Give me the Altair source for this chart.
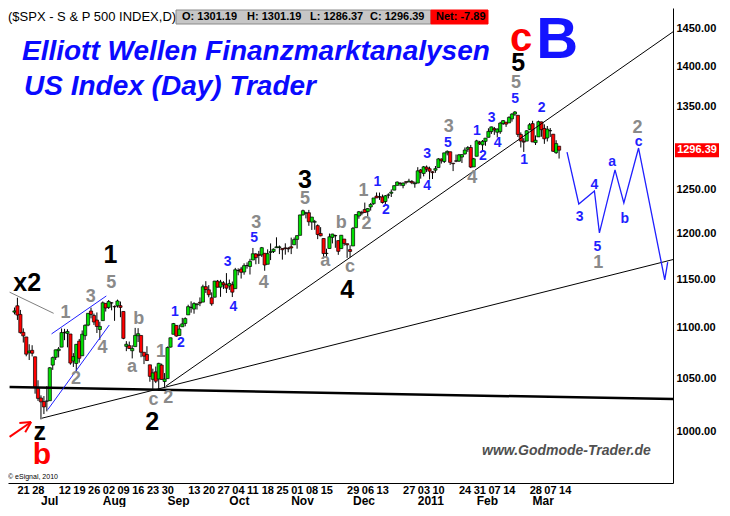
import altair as alt
import pandas as pd

FONT = "Liberation Sans"

# ---------------- OHLC data (Jun 18 2010 .. Mar 14 2011), one value per trading day ----------------
opens = [
    1116.2, 1122.8, 1113.9, 1095.6, 1090.9, 1075.1, 1077.5, 1071.1, 1040.6,
    1031.1, 1027.7, 1028.1, 1028.5, 1062.9, 1070.5, 1077.2, 1080.7, 1095.6, 1094.5, 1093.9,
    1066.9, 1064.5, 1086.7, 1072.1, 1092.2, 1102.9, 1117.4, 1112.8, 1108.1, 1098.4,
    1107.5, 1125.3, 1121.1, 1125.8, 1122.1, 1122.8, 1122.9, 1116.9, 1081.5, 1082.2, 1077.1,
    1081.2, 1092.1, 1092.4, 1075.6, 1073.4, 1063.2, 1049.0, 1056.3, 1049.3, 1062.9, 1046.9,
    1049.7, 1080.7, 1093.6, 1102.6, 1092.4, 1101.2, 1104.6, 1113.4, 1121.2, 1119.4, 1123.9,
    1126.4, 1126.6, 1142.8, 1139.5, 1131.1, 1131.7, 1148.6, 1142.3, 1146.8, 1145.0,
    1143.5, 1144.9, 1140.7, 1159.8, 1161.6, 1158.4, 1165.3, 1164.3, 1171.3, 1177.8, 1177.5,
    1176.8, 1178.6, 1166.7, 1179.6, 1180.5, 1184.7, 1184.9, 1183.8, 1184.5, 1183.9,
    1185.7, 1187.9, 1193.8, 1198.3, 1221.2, 1223.2, 1223.6, 1213.1, 1213.0, 1209.1, 1200.4,
    1194.8, 1178.3, 1183.8, 1196.1, 1198.1, 1192.5, 1183.7, 1194.2, 1189.1, 1182.6,
    1186.6, 1206.8, 1219.9, 1223.9, 1227.3, 1225.0, 1230.1, 1233.9, 1242.5, 1241.8, 1241.6,
    1236.3, 1243.6, 1245.8, 1249.4, 1254.9, 1257.5, 1254.7, 1259.1, 1258.8, 1259.4, 1256.8,
    1257.6, 1272.9, 1268.8, 1276.3, 1274.4, 1270.8, 1272.6, 1275.7, 1285.8, 1282.9,
    1293.2, 1294.5, 1280.9, 1283.6, 1283.3, 1288.2, 1292.0, 1297.5, 1299.6, 1276.5,
    1289.1, 1305.9, 1302.8, 1307.0, 1311.9, 1318.8, 1322.5, 1318.1, 1318.7, 1328.7,
    1330.4, 1329.5, 1334.4, 1340.4, 1338.9, 1315.4, 1307.1, 1307.3, 1321.6,
    1328.6, 1305.5, 1312.4, 1330.7, 1322.7, 1311.1, 1319.9, 1315.7, 1293.4, 1301.2,
]
highs = [
    1121.0, 1131.2, 1118.5, 1099.6, 1090.9, 1083.6, 1082.6, 1071.1, 1048.1,
    1033.6, 1032.9, 1042.5, 1060.9, 1071.3, 1078.2, 1080.8, 1099.5, 1099.1, 1098.7, 1093.9,
    1074.7, 1083.9, 1088.9, 1097.5, 1103.7, 1115.2, 1120.9, 1114.7, 1115.9, 1106.4,
    1127.3, 1125.4, 1128.8, 1126.6, 1123.1, 1129.2, 1127.2, 1116.9, 1086.7, 1086.3, 1082.6,
    1100.1, 1099.8, 1092.4, 1075.6, 1081.6, 1063.2, 1059.4, 1061.5, 1065.2, 1064.4, 1055.1,
    1081.3, 1090.1, 1105.1, 1102.6, 1103.3, 1110.3, 1110.9, 1123.9, 1127.4, 1126.5, 1125.4,
    1131.5, 1144.9, 1148.6, 1144.4, 1136.8, 1148.9, 1149.9, 1150.0, 1148.6, 1157.2,
    1150.3, 1148.2, 1162.8, 1162.3, 1163.9, 1167.7, 1168.7, 1172.6, 1184.4, 1178.9, 1181.2,
    1185.5, 1178.6, 1182.9, 1189.4, 1183.9, 1196.1, 1187.1, 1183.8, 1189.5, 1185.5,
    1195.8, 1195.9, 1198.3, 1221.3, 1227.1, 1224.6, 1226.8, 1218.8, 1215.5, 1210.5, 1207.4,
    1194.8, 1183.6, 1200.3, 1200.0, 1198.9, 1192.5, 1198.6, 1194.2, 1189.1, 1187.4,
    1207.6, 1221.9, 1225.6, 1225.8, 1235.1, 1228.9, 1234.7, 1240.4, 1246.7, 1246.6, 1244.3,
    1243.8, 1245.8, 1250.2, 1255.0, 1259.4, 1258.6, 1258.4, 1259.9, 1262.6, 1261.1, 1259.3,
    1276.2, 1274.1, 1277.6, 1278.2, 1276.8, 1271.5, 1277.6, 1286.9, 1286.6, 1293.2,
    1296.1, 1294.6, 1280.9, 1291.2, 1291.9, 1291.3, 1299.7, 1301.3, 1302.7, 1287.2,
    1308.9, 1307.6, 1308.6, 1311.0, 1322.9, 1324.9, 1324.5, 1322.8, 1330.8, 1333.0,
    1330.4, 1337.6, 1341.5, 1344.1, 1338.9, 1317.9, 1310.9, 1320.6, 1329.4,
    1332.1, 1314.2, 1332.3, 1331.1, 1327.7, 1325.7, 1323.2, 1315.7, 1308.4, 1301.2,
]
lows = [
    1113.9, 1108.2, 1094.2, 1085.3, 1071.6, 1067.9, 1071.5, 1035.2, 1028.3,
    1010.9, 1015.9, 1018.4, 1028.5, 1058.2, 1068.0, 1070.5, 1080.7, 1087.7, 1080.5, 1063.3,
    1061.1, 1056.9, 1065.3, 1072.1, 1087.9, 1101.8, 1109.8, 1103.1, 1094.9, 1088.0,
    1107.5, 1116.8, 1119.5, 1118.1, 1107.3, 1120.9, 1111.0, 1088.6, 1076.7, 1079.0, 1069.5,
    1081.2, 1085.8, 1070.7, 1063.9, 1067.1, 1046.7, 1039.8, 1045.4, 1039.7, 1048.8, 1040.9,
    1049.7, 1080.4, 1093.6, 1091.2, 1092.4, 1101.2, 1101.7, 1113.4, 1115.6, 1114.6, 1118.9,
    1122.4, 1126.6, 1136.2, 1131.6, 1122.8, 1131.7, 1142.0, 1132.1, 1140.3, 1136.1,
    1139.4, 1131.9, 1140.7, 1154.9, 1151.4, 1155.5, 1162.0, 1155.7, 1171.3, 1166.7, 1167.1,
    1174.6, 1159.7, 1166.7, 1171.2, 1178.9, 1184.7, 1177.7, 1171.7, 1177.1, 1179.7,
    1177.7, 1187.9, 1183.6, 1198.3, 1220.3, 1217.2, 1208.9, 1204.3, 1204.5, 1194.1, 1197.2,
    1173.0, 1173.9, 1183.8, 1189.4, 1184.6, 1176.9, 1183.7, 1186.9, 1173.6, 1174.1,
    1186.6, 1206.8, 1216.8, 1220.7, 1223.3, 1219.5, 1226.0, 1232.6, 1240.3, 1238.2, 1234.0,
    1232.8, 1239.9, 1241.5, 1249.4, 1254.9, 1254.1, 1251.5, 1256.2, 1258.8, 1256.3, 1252.2,
    1257.6, 1262.7, 1265.4, 1270.4, 1261.7, 1262.3, 1269.6, 1275.7, 1280.5, 1281.1,
    1290.2, 1278.9, 1271.6, 1282.1, 1282.5, 1281.1, 1291.0, 1294.4, 1275.1, 1276.5,
    1289.1, 1302.6, 1294.8, 1301.7, 1311.9, 1316.0, 1314.9, 1311.7, 1316.1, 1326.9,
    1324.6, 1329.5, 1331.0, 1338.1, 1312.3, 1299.6, 1294.3, 1307.3, 1320.6,
    1306.1, 1302.6, 1312.4, 1312.6, 1304.0, 1306.9, 1312.3, 1294.2, 1292.0, 1286.4,
]
closes = [
    1117.5, 1113.2, 1095.3, 1092.0, 1073.7, 1076.8, 1074.6, 1041.2, 1030.7,
    1027.4, 1022.6, 1028.1, 1060.3, 1070.3, 1078.0, 1078.8, 1095.3, 1095.2, 1096.5, 1064.9,
    1071.3, 1083.5, 1069.6, 1093.7, 1102.7, 1115.0, 1113.8, 1106.1, 1101.5, 1101.6,
    1125.9, 1120.5, 1127.2, 1125.8, 1121.6, 1127.8, 1121.1, 1089.5, 1083.6, 1079.3, 1079.4,
    1092.5, 1094.2, 1075.6, 1071.7, 1067.4, 1051.9, 1055.3, 1047.2, 1064.6, 1048.9, 1049.3,
    1080.3, 1090.1, 1104.5, 1091.8, 1098.9, 1104.2, 1109.6, 1121.9, 1121.1, 1125.1, 1124.7,
    1125.6, 1142.7, 1139.8, 1134.3, 1124.8, 1148.7, 1142.2, 1147.7, 1144.7, 1141.2,
    1146.2, 1137.0, 1160.8, 1160.0, 1158.1, 1165.2, 1165.3, 1169.8, 1178.1, 1173.8, 1176.2,
    1184.7, 1165.9, 1178.2, 1180.3, 1183.1, 1185.6, 1185.6, 1182.5, 1183.8, 1183.3,
    1184.4, 1193.6, 1198.0, 1221.1, 1225.9, 1223.3, 1213.4, 1218.7, 1213.5, 1199.2, 1197.8,
    1178.3, 1178.6, 1196.7, 1199.7, 1197.8, 1180.7, 1198.4, 1189.4, 1187.8, 1180.6,
    1206.1, 1221.5, 1224.7, 1223.1, 1223.8, 1228.3, 1233.0, 1240.4, 1240.5, 1241.6, 1235.2,
    1242.9, 1243.9, 1247.1, 1254.6, 1258.8, 1256.8, 1257.5, 1258.5, 1259.8, 1257.9, 1257.6,
    1271.9, 1270.2, 1276.6, 1273.9, 1271.5, 1269.8, 1274.5, 1286.0, 1283.8, 1293.2,
    1295.0, 1281.9, 1280.3, 1283.4, 1290.8, 1291.2, 1296.6, 1299.5, 1276.3, 1286.1,
    1307.6, 1304.0, 1307.1, 1310.9, 1319.1, 1324.6, 1320.9, 1321.9, 1329.2, 1332.3,
    1328.0, 1336.3, 1340.4, 1343.0, 1315.4, 1307.4, 1306.1, 1319.9, 1327.2,
    1306.3, 1308.4, 1331.0, 1321.2, 1310.1, 1321.8, 1320.0, 1295.1, 1304.3, 1296.4,
]

# x-axis labels (trading-day index -> text)
day_idx = [1, 6, 15, 20, 25, 30, 35, 40, 45, 50, 59, 64, 69, 74, 79, 84, 89, 94, 99, 104,
           113, 118, 123, 132, 137, 142, 151, 156, 161, 166, 175, 180, 185]
day_txt = ["21", "28", "12", "19", "26", "02", "09", "16", "23", "30", "13", "20", "27", "04",
           "11", "18", "25", "01", "08", "15", "29", "06", "13", "27", "03", "10", "24", "31",
           "07", "14", "28", "07", "14"]
month_idx = [9, 30, 52, 73, 94, 115, 137, 157, 176]
month_txt = ["Jul", "Aug", "Sep", "Oct", "Nov", "Dec", "2011", "Feb", "Mar"]
y_ticks = [1000, 1050, 1100, 1150, 1200, 1250, 1350, 1400, 1450]
last_close = 1296.39

# drawn lines (trading-day index, price)
thin_lines = [[(9.3, 1012.0), (224.6, 1172.5)], [(51.5, 1042.6), (224.6, 1448.7)]]
thick_line = [[(-1.66, 1041.5), (224.6, 1030.0)]]
x2_line = [[(-1.66, 1137.0), (13.3, 1115.0)]]
channel = [[(12.6, 1094.0), (31.2, 1133.0)], [(11.3, 1020.0), (32.2, 1103.0)]]
projection = [[(187.7, 1294.0), (191.7, 1233.5), (197.0, 1248.5), (198.7, 1201.0), (204.0, 1273.0),
               (207.0, 1234.7), (212.0, 1299.0), (220.9, 1150.0), (221.9, 1169.0)]]
red_arrow = [[(-1.66, 994.7), (5.65, 1008.5)], [(1.66, 1007.6), (5.65, 1008.5)],
             [(3.65, 999.0), (5.65, 1008.5)]]

# wave labels (text, index, price)
black_lbl = [("x2", 4.3, 1147), ("1", 32.6, 1177), ("2", 46.8, 1008.5), ("3", 98.7, 1261),
             ("4", 113.0, 1139), ("5", 171.1, 1405), ("z", 8.6, 999)]
gray_lbl = [("1", 17.3, 1115), ("2", 20.9, 1049), ("3", 25.9, 1132), ("4", 29.9, 1080),
            ("5", 32.9, 1147), ("a", 39.9, 1061), ("b", 42.2, 1109), ("1", 49.8, 1076),
            ("c", 47.2, 1029), ("2", 52.2, 1031), ("3", 82.1, 1212), ("4", 84.7, 1147),
            ("5", 98.7, 1239), ("a", 105.6, 1170), ("b", 111.0, 1212), ("c", 114.0, 1164),
            ("1", 118.6, 1248), ("2", 119.6, 1211), ("3", 147.5, 1324), ("4", 155.5, 1264),
            ("5", 170.4, 1380), ("1", 198.3, 1168), ("2", 211.6, 1323)]
blue_lbl = [("1", 54.5, 1116), ("2", 56.5, 1085), ("3", 72.4, 1169), ("4", 74.4, 1122),
            ("5", 81.4, 1195), ("1", 123.3, 1259), ("2", 126.2, 1227), ("3", 140.2, 1292),
            ("4", 140.2, 1254), ("5", 147.2, 1305), ("1", 157.1, 1320), ("2", 159.1, 1290),
            ("3", 162.1, 1336), ("4", 164.1, 1305), ("5", 170.1, 1359), ("1", 173.1, 1285),
            ("2", 179.1, 1348), ("3", 192.0, 1219), ("4", 197.0, 1255), ("5", 198.0, 1185.5),
            ("a", 203.0, 1282), ("b", 207.3, 1217), ("c", 212.0, 1306)]
red_lbl = [("b", 9.3, 978, 30), ("c", 172.1, 1436, 40)]
big_b = [("B", 184.4, 1434)]

# ---------------- chart ----------------
W, H = 665, 475
xs = alt.Scale(domain=[-0.5, 222.0], nice=False, zero=False)
ys = alt.Scale(type="log", domain=[953.2, 1478.4], nice=False, zero=False)

XAX = alt.Axis(labels=False, ticks=False, grid=False, title=None, domainColor="black", domainWidth=1)
YAX = alt.Axis(orient="right", values=y_ticks, format=".2f", labelFont=FONT, labelFontSize=11,
               labelFontWeight="bold", labelColor="black", ticks=False, grid=False, title=None,
               domainColor="black", domainWidth=1, labelPadding=3)

df = pd.DataFrame({"i": list(range(len(closes))), "o": opens, "h": highs, "l": lows, "c": closes})
df["dir"] = ["up" if c >= o else "down" for o, c in zip(opens, closes)]

wicks = alt.Chart(df).mark_rule(color="black", strokeWidth=1).encode(
    x=alt.X("i:Q", scale=xs, axis=XAX),
    y=alt.Y("l:Q", scale=ys, axis=YAX),
    y2="h:Q",
)
bodies = alt.Chart(df).mark_bar(size=3.2, stroke="black", strokeWidth=0.7, orient="vertical").encode(
    x=alt.X("i:Q", scale=xs, axis=XAX),
    y=alt.Y("o:Q", scale=ys, axis=YAX),
    y2="c:Q",
    color=alt.Color("dir:N", scale=alt.Scale(domain=["up", "down"], range=["#00e000", "#ff0000"]), legend=None),
)


def line_layer(segs, color, width):
    rows = []
    for k, seg in enumerate(segs):
        for j, (i, p) in enumerate(seg):
            rows.append({"seg": k, "i": i, "p": p, "o": j})
    return alt.Chart(pd.DataFrame(rows)).mark_line(color=color, strokeWidth=width, clip=True).encode(
        x=alt.X("i:Q", scale=xs, axis=XAX), y=alt.Y("p:Q", scale=ys, axis=YAX),
        detail="seg:N", order="o:Q")


def label_layer(items, color, size, weight="bold"):
    d = pd.DataFrame(items, columns=["t", "i", "p"])
    return alt.Chart(d).mark_text(color=color, fontSize=size, fontWeight=weight, font=FONT,
                                  align="center", baseline="middle").encode(
        x=alt.X("i:Q", scale=xs, axis=XAX), y=alt.Y("p:Q", scale=ys, axis=YAX), text="t:N")


def deco(text, x, y, size, color="black", weight="normal", style="normal", align="left"):
    return alt.Chart(pd.DataFrame({"t": [text]})).mark_text(
        fontSize=size, color=color, fontWeight=weight, fontStyle=style, font=FONT,
        align=align, baseline="middle").encode(x=alt.value(x), y=alt.value(y), text="t:N")


def box(x1, x2, y1, y2, fill, stroke):
    return alt.Chart(pd.DataFrame({"a": [0]})).mark_rect(fill=fill, stroke=stroke, strokeWidth=1).encode(
        x=alt.value(x1), x2=alt.value(x2), y=alt.value(y1), y2=alt.value(y2))


red_df = pd.DataFrame(red_lbl, columns=["t", "i", "p", "s"])
red_layers = [label_layer([(r.t, r.i, r.p)], "#ff0000", int(r.s)) for r in red_df.itertuples()]

days_df = pd.DataFrame({"i": day_idx, "t": day_txt})
days = alt.Chart(days_df).mark_text(font=FONT, fontSize=11, fontWeight="bold", align="left",
                                    baseline="middle", color="black").encode(
    x=alt.X("i:Q", scale=xs, axis=XAX), y=alt.value(H + 8), text="t:N")
months_df = pd.DataFrame({"i": month_idx, "t": month_txt})
months = alt.Chart(months_df).mark_text(font=FONT, fontSize=12, fontWeight="bold", align="left",
                                        baseline="middle", color="black").encode(
    x=alt.X("i:Q", scale=xs, axis=XAX), y=alt.value(H + 18), text="t:N")

tag_df = pd.DataFrame({"p": [last_close], "t": [f"{last_close:.2f}"]})
tag_box = alt.Chart(tag_df).mark_point(
    shape="M-1,-0.32L1,-0.32L1,0.32L-1,0.32Z", filled=True, fill="#ff0000", opacity=1,
    strokeWidth=0, size=1936).encode(x=alt.value(W + 24), y=alt.Y("p:Q", scale=ys, axis=YAX))
tag_txt = alt.Chart(tag_df).mark_text(font=FONT, fontSize=11, fontWeight="bold", color="white",
                                      align="center", baseline="middle").encode(
    x=alt.value(W + 24), y=alt.Y("p:Q", scale=ys, axis=YAX), text="t:N")

layers = [
    wicks, bodies,
    line_layer(thick_line, "black", 2.5),
    line_layer(thin_lines, "black", 1),
    line_layer(x2_line, "#808080", 1),
    line_layer(channel, "#2020ff", 1),
    line_layer(projection, "#2020ff", 1.3),
    line_layer(red_arrow, "#ff0000", 2),
    label_layer(black_lbl, "black", 25),
    label_layer(gray_lbl, "#8a8a8a", 18),
    label_layer(blue_lbl, "#1f1fff", 14),
    label_layer(big_b, "#1414ff", 58),
    *red_layers,
    days, months, tag_box, tag_txt,
    deco("($SPX - S & P 500 INDEX,D)", 0, 9, 13),
    box(168, 423, 2, 16, "#c6c6c6", "#8a8a8a"),
    box(423, 480, 2, 16, "#ff0000", "#ff0000"),
    deco("O: 1301.19", 174, 9, 11, weight="bold"),
    deco("H: 1301.19", 239, 9, 11, weight="bold"),
    deco("L: 1286.37", 302, 9, 11, weight="bold"),
    deco("C: 1296.39", 362, 9, 11, weight="bold"),
    deco("Net: -7.89", 428, 9, 11, weight="bold"),
    deco("Elliott Wellen Finanzmarktanalysen", 14, 44, 28, color="#0a0aff", weight="bold", style="italic"),
    deco("US Index (Day) Trader", 16, 79, 28, color="#0a0aff", weight="bold", style="italic"),
    deco("www.Godmode-Trader.de", 474, 443, 14, color="#505050", weight="bold", style="italic"),
    deco("\u00a9 eSignal, 2010", 0, 469, 7),
]

chart = alt.layer(*layers).properties(
    width=W, height=H, padding={"left": 0, "top": 0, "right": 0, "bottom": 0}
).configure_view(stroke=None)

chart.save("out.html", embed_options={"renderer": "svg", "actions": False})
